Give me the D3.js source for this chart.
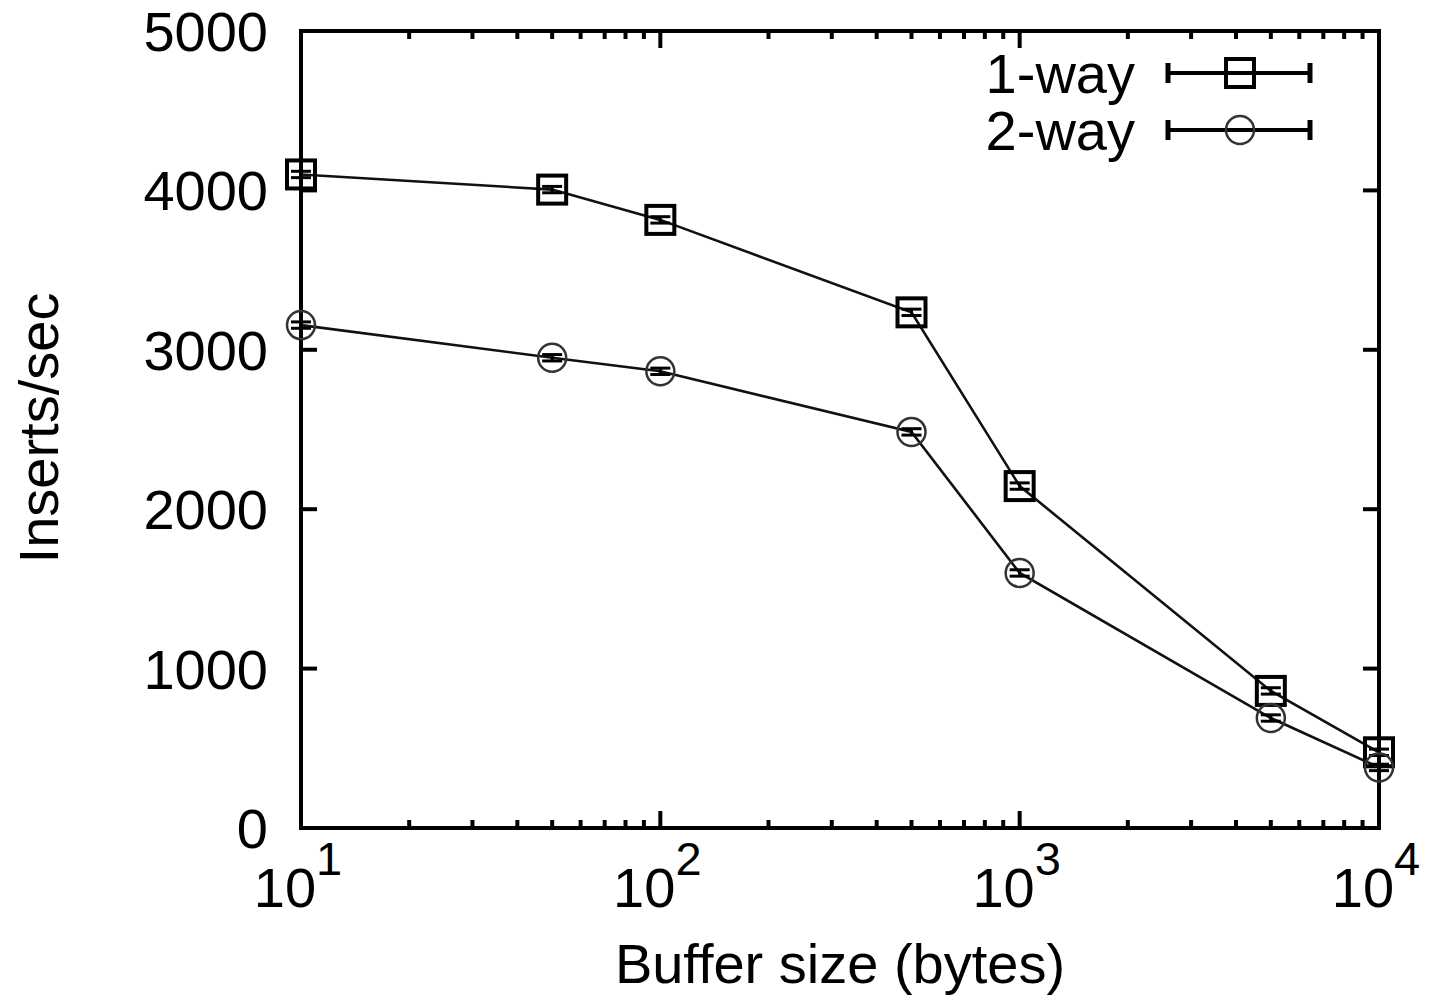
<!DOCTYPE html>
<html><head><meta charset="utf-8">
<script src="https://cdn.jsdelivr.net/npm/d3@7"></script>
<style>html,body{margin:0;padding:0;background:#fff;}svg{display:block;}</style>
</head><body>
<script>
const bufferSizes = [10, 50, 100, 500, 1000, 5000, 10000];
const oneWay = [4100, 4005, 3815, 3235, 2145, 860, 475];
const oneWayErr = [20, 20, 20, 20, 20, 20, 20];
const twoWay = [3155, 2950, 2865, 2485, 1600, 690, 380];
const twoWayErr = [20, 20, 20, 20, 20, 20, 20];
const yTicks = [0, 1000, 2000, 3000, 4000, 5000];
const xTickExps = [1, 2, 3, 4];
const seriesNames = ["1-way", "2-way"];

const W = 1432, H = 995;
const svg = d3.select("body").append("svg").attr("width", W).attr("height", H);
const L = 301, R = 1379, T = 31, B = 828;
const x = d3.scaleLog().domain([10, 10000]).range([L, R]);
const y = d3.scaleLinear().domain([0, 5000]).range([B, T]);
const font = "Liberation Sans, Arial, sans-serif";
const fs = 56;

const g = svg.append("g");
const minor = [];
for (let e = 1; e < 4; e++) for (let m = 2; m <= 9; m++) minor.push(m * Math.pow(10, e));
minor.forEach(v => {
  g.append("line").attr("x1", x(v)).attr("x2", x(v)).attr("y1", B).attr("y2", B - 8).attr("stroke", "#000").attr("stroke-width", 4);
  g.append("line").attr("x1", x(v)).attr("x2", x(v)).attr("y1", T).attr("y2", T + 8).attr("stroke", "#000").attr("stroke-width", 4);
});
xTickExps.forEach(e => {
  const v = Math.pow(10, e);
  g.append("line").attr("x1", x(v)).attr("x2", x(v)).attr("y1", B).attr("y2", B - 17).attr("stroke", "#000").attr("stroke-width", 4);
  g.append("line").attr("x1", x(v)).attr("x2", x(v)).attr("y1", T).attr("y2", T + 17).attr("stroke", "#000").attr("stroke-width", 4);
  const t = svg.append("text").attr("x", x(v) - 3).attr("y", 907).attr("text-anchor", "middle")
    .attr("font-family", font).attr("font-size", fs).attr("fill", "#000");
  t.append("tspan").text("10");
  t.append("tspan").attr("dy", -32).attr("font-size", 47).text(String(e));
});
yTicks.forEach(v => {
  g.append("line").attr("x1", L).attr("x2", L + 16).attr("y1", y(v)).attr("y2", y(v)).attr("stroke", "#000").attr("stroke-width", 4);
  g.append("line").attr("x1", R).attr("x2", R - 16).attr("y1", y(v)).attr("y2", y(v)).attr("stroke", "#000").attr("stroke-width", 4);
  svg.append("text").attr("x", 268).attr("y", y(v) + 20).attr("text-anchor", "end")
    .attr("font-family", font).attr("font-size", fs).attr("fill", "#000").text(v);
});
svg.append("rect").attr("x", L).attr("y", T).attr("width", R - L).attr("height", B - T)
  .attr("fill", "none").attr("stroke", "#000").attr("stroke-width", 4);

svg.append("text").attr("x", (L + R) / 2).attr("y", 983).attr("text-anchor", "middle")
  .attr("font-family", font).attr("font-size", fs).attr("fill", "#000").text("Buffer size (bytes)");
svg.append("text").attr("transform", "translate(58,428) rotate(-90)").attr("text-anchor", "middle")
  .attr("font-family", font).attr("font-size", fs).attr("fill", "#000").text("Inserts/sec");

const line = d3.line().x(d => x(d[0])).y(d => y(d[1]));
function drawSeries(vals, errs, marker) {
  const pts = bufferSizes.map((b, i) => [b, vals[i], errs[i]]);
  svg.append("path").attr("d", line(pts)).attr("fill", "none").attr("stroke", "#111").attr("stroke-width", 2.6);
  pts.forEach(p => {
    const cx = x(p[0]), cyh = y(p[1] + p[2]), cyl = y(p[1] - p[2]);
    svg.append("line").attr("x1", cx).attr("x2", cx).attr("y1", cyh).attr("y2", cyl).attr("stroke", "#000").attr("stroke-width", 3);
    [cyh, cyl].forEach(cy => svg.append("line").attr("x1", cx - 10).attr("x2", cx + 10).attr("y1", cy).attr("y2", cy).attr("stroke", "#000").attr("stroke-width", 3));
    marker(cx, y(p[1]));
  });
}
const square = (cx, cy) => svg.append("rect").attr("x", cx - 14).attr("y", cy - 14).attr("width", 28).attr("height", 28)
  .attr("fill", "none").attr("stroke", "#000").attr("stroke-width", 4);
const circle = (cx, cy) => svg.append("circle").attr("cx", cx).attr("cy", cy).attr("r", 14)
  .attr("fill", "none").attr("stroke", "#333").attr("stroke-width", 2.5);
drawSeries(oneWay, oneWayErr, square);
drawSeries(twoWay, twoWayErr, circle);

const markers = [square, circle];
seriesNames.forEach((name, i) => {
  const ly = 73 + i * 57;
  svg.append("text").attr("x", 1135).attr("y", ly + 20).attr("text-anchor", "end")
    .attr("font-family", font).attr("font-size", fs).attr("fill", "#000").text(name);
  svg.append("line").attr("x1", 1168).attr("x2", 1310).attr("y1", ly).attr("y2", ly).attr("stroke", "#000").attr("stroke-width", 4);
  [1168, 1310].forEach(lx => svg.append("line").attr("x1", lx).attr("x2", lx).attr("y1", ly - 10).attr("y2", ly + 10).attr("stroke", "#000").attr("stroke-width", 5));
  markers[i](1240, ly);
});
</script>
</body></html>
